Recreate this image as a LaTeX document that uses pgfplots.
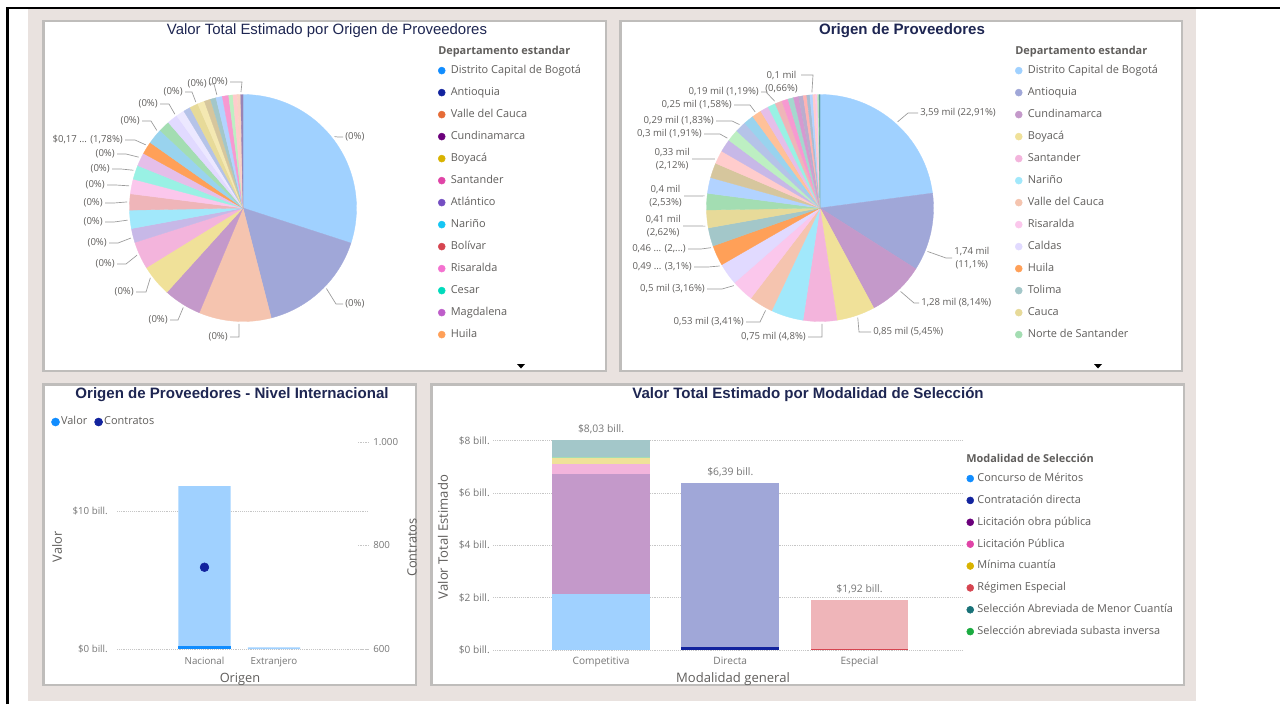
\documentclass[border=0pt]{standalone}
\usepackage{pgfplots}
\pgfplotsset{compat=1.18}
\usepackage{pgfplotstable}
\usetikzlibrary{calc}
\usepackage{fontspec}
\setmainfont{Open Sans}
\newfontfamily\arialf{Liberation Sans}

\definecolor{cBog}{HTML}{118DFF}
\definecolor{cAnt}{HTML}{12239E}
\definecolor{cVal}{HTML}{E66C37}
\definecolor{cCun}{HTML}{6B007B}
\definecolor{cBoy}{HTML}{D9B300}
\definecolor{cSan}{HTML}{E044A7}
\definecolor{cAtl}{HTML}{744EC2}
\definecolor{cNar}{HTML}{15C6F4}
\definecolor{cBol}{HTML}{D64550}
\definecolor{cRis}{HTML}{F472D0}
\definecolor{cCes}{HTML}{00DBBC}
\definecolor{cMag}{HTML}{BE5DC9}
\definecolor{cHui}{HTML}{FFA058}
\definecolor{cCal}{HTML}{B5A1FF}
\definecolor{cTol}{HTML}{197278}
\definecolor{cCau}{HTML}{C4A200}
\definecolor{cNor}{HTML}{1AAB40}
\definecolor{cMet}{HTML}{4092FF}
\definecolor{cCor}{HTML}{FF8080}
\definecolor{cQui}{HTML}{5BD667}
\definecolor{cSuc}{HTML}{0091D5}
\definecolor{cCaq}{HTML}{4668C5}
\definecolor{cCas}{HTML}{FF6300}
\definecolor{cPut}{HTML}{99008A}
\definecolor{cGua}{HTML}{EC008C}
\definecolor{cCho}{HTML}{533285}
\definecolor{cAra}{HTML}{99700A}
\definecolor{cGuv}{HTML}{FF4141}
\definecolor{cAma}{HTML}{1F9A85}
\definecolor{cSaI}{HTML}{255A8F}
\definecolor{bgbeige}{HTML}{E9E2DF}
\definecolor{pborder}{HTML}{BFBDBB}
\definecolor{tgray}{HTML}{605E5C}
\definecolor{tlight}{HTML}{767676}
\definecolor{tnavy}{HTML}{1E2652}
\definecolor{gridc}{HTML}{C6C6C6}
\definecolor{leadc}{HTML}{9A9A9A}

% Left pie: share of Valor Total Estimado by department (%)
\pgfplotstableread{
v c f
30.00 cBog 40
16.00 cAnt 40
10.30 cVal 40
5.40 cCun 40
4.50 cBoy 40
3.90 cSan 40
2.00 cAtl 40
2.60 cNar 40
2.30 cBol 40
2.10 cRis 40
2.00 cCes 40
1.90 cMag 40
1.78 cHui 100
2.20 cSuc 40
1.60 cNor 40
1.50 cCal 40
1.20 cCal 25
1.00 cCaq 40
1.20 cCau 40
1.00 cBoy 30
0.90 cAra 40
0.80 cTol 40
0.90 cMet 40
0.90 cGua 40
0.60 cQui 40
0.60 cCor 40
0.50 cVal 30
0.32 cCho 60
}\pieL

% Right pie: share of suppliers by department (%)
\pgfplotstableread{
v c f
22.91 cBog 40
11.10 cAnt 40
8.14 cCun 40
5.45 cBoy 40
4.80 cSan 40
4.60 cNar 40
3.41 cVal 40
3.16 cRis 40
3.10 cCal 40
2.90 cHui 100
2.62 cTol 40
2.53 cCau 40
2.35 cNor 40
2.25 cMet 40
2.12 cAra 40
1.91 cCor 40
1.83 cAtl 40
1.70 cQui 40
1.58 cCaq 40
1.45 cSuc 40
1.35 cCas 40
1.19 cMag 40
1.10 cCes 40
1.00 cBol 40
0.90 cGua 40
0.80 cAma 40
0.72 cPut 40
0.66 cCho 40
0.50 cGuv 40
0.45 cSaI 40
0.40 cMet 40
0.37 cCor 40
0.30 cRis 40
0.20 cQui 40
0.15 cTol 70
}\pieR

\newcommand\drawpie[2]{%
  \pgfplotstablegetrowsof{#1}%
  \pgfmathtruncatemacro\pielast{\pgfplotsretval-1}%
  \gdef\pietot{0}%
  \foreach \i in {0,...,\pielast}{%
    \pgfplotstablegetelem{\i}{v}\of#1%
    \pgfmathsetmacro\pietmpv{\pietot+\pgfplotsretval}%
    \xdef\pietot{\pietmpv}}%
  \gdef\piecum{0}%
  \foreach \i in {0,...,\pielast}{%
    \pgfplotstablegetelem{\i}{v}\of#1\let\pieV\pgfplotsretval
    \pgfplotstablegetelem{\i}{c}\of#1\let\pieC\pgfplotsretval
    \pgfplotstablegetelem{\i}{f}\of#1\let\pieF\pgfplotsretval
    \pgfmathsetmacro\pieA{90-(\piecum/\pietot)*360}%
    \pgfmathsetmacro\pietmpv{\piecum+\pieV}\xdef\piecum{\pietmpv}%
    \pgfmathsetmacro\pieB{90-(\piecum/\pietot)*360}%
    \colorlet{pietmp}{\pieC!\pieF!white}%
    \fill[pietmp, draw=pietmp, line width=0.25pt] (axis cs:0,0) -- (axis cs:{#2*cos(\pieA)},{#2*sin(\pieA)}) arc[start angle=\pieA, end angle=\pieB, radius=#2*0.75pt] -- cycle;
  }}

\newcommand\dotentry[3]{\addlegendimage{legend image code/.code={\fill[#1] (0pt,0pt) circle (#2);}}\addlegendentry{#3}}

\tikzset{plabel/.style={font=\fontsize{7.2}{9.8}\selectfont, text=tgray, inner sep=1.5pt, align=center}}
\newcommand\plab[8]{\draw[leadc, line width=0.5pt] ($(#1,#2)+(#3:116)$) -- (#4,#6) -- (#5,#6); \node[plabel, anchor=#7] at (#5,#6) {#8};}

\pgfplotsset{
  pieaxis/.style={hide axis, clip=false, x=0.75pt, y=0.75pt, xmin=-114, xmax=114, ymin=-114, ymax=114, anchor=center},
  dotlegend/.style={legend cell align=left, legend style={draw=none, fill=none, inner sep=0pt, outer sep=0pt,
      font=\fontsize{8.2}{10}\selectfont, text=tgray, row sep=#1,
      nodes={inner sep=0pt, text height=6.2pt, text depth=1.8pt},
      /tikz/every odd column/.append style={column sep=4pt}}},
}

\begin{document}
\begin{tikzpicture}[x=0.75pt,y=-0.75pt]
\fill[white] (0,0) rectangle (1280,704);
\fill[bgbeige] (28,9) rectangle (1196,701);
\draw[black,line width=2.25pt] (7.5,704) -- (7.5,8);
\draw[black,line width=1.5pt] (6.4,8) -- (1280,8);
\foreach \a/\b/\c/\d in {43.5/21/606/371, 620.5/21/1182/371, 43.5/384.5/416/685, 431.5/384.5/1184/685}{
  \fill[white] (\a,\b) rectangle (\c,\d);
  \draw[pborder, line width=2.2pt] (\a,\b) rectangle (\c,\d);}

% titles
\node[font=\arialf\fontsize{11.2}{13}\selectfont, text=tnavy] at (327,31) {Valor Total Estimado por Origen de Proveedores};
\node[font=\arialf\bfseries\fontsize{11.3}{13}\selectfont, text=tnavy] at (902,31) {Origen de Proveedores};
\node[font=\arialf\bfseries\fontsize{11.3}{13}\selectfont, text=tnavy] at (232,395) {Origen de Proveedores - Nivel Internacional};
\node[font=\arialf\bfseries\fontsize{11.3}{13}\selectfont, text=tnavy] at (808,395) {Valor Total Estimado por Modalidad de Selección};

% legend titles
\node[anchor=west, inner sep=0pt, font=\bfseries\fontsize{8.2}{10}\selectfont, text=tgray] at (438,52) {Departamento estandar};
\node[anchor=west, inner sep=0pt, font=\bfseries\fontsize{8.2}{10}\selectfont, text=tgray] at (1015,52) {Departamento estandar};
\node[anchor=west, inner sep=0pt, font=\bfseries\fontsize{8.2}{10}\selectfont, text=tgray] at (966,458) {Modalidad de Selección};

% ---------- left pie ----------
\begin{axis}[pieaxis, at={(182.25pt,-156pt)}, dotlegend=8.5pt,
  legend style={at={(axis description cs:1.3553,1.126)}, anchor=north west}]
\pgfplotsextra{\drawpie{\pieL}{113.5}}
\dotentry{cBog}{2.6pt}{Distrito Capital de Bogotá}
\dotentry{cAnt}{2.6pt}{Antioquia}
\dotentry{cVal}{2.6pt}{Valle del Cauca}
\dotentry{cCun}{2.6pt}{Cundinamarca}
\dotentry{cBoy}{2.6pt}{Boyacá}
\dotentry{cSan}{2.6pt}{Santander}
\dotentry{cAtl}{2.6pt}{Atlántico}
\dotentry{cNar}{2.6pt}{Nariño}
\dotentry{cBol}{2.6pt}{Bolívar}
\dotentry{cRis}{2.6pt}{Risaralda}
\dotentry{cCes}{2.6pt}{Cesar}
\dotentry{cMag}{2.6pt}{Magdalena}
\dotentry{cHui}{2.6pt}{Huila}
\end{axis}

% ---------- right pie ----------
\begin{axis}[pieaxis, at={(615pt,-156pt)}, dotlegend=8.5pt,
  legend style={at={(axis description cs:1.3553,1.126)}, anchor=north west}]
\pgfplotsextra{\drawpie{\pieR}{113.5}}
\dotentry{cBog!40!white}{2.6pt}{Distrito Capital de Bogotá}
\dotentry{cAnt!40!white}{2.6pt}{Antioquia}
\dotentry{cCun!40!white}{2.6pt}{Cundinamarca}
\dotentry{cBoy!40!white}{2.6pt}{Boyacá}
\dotentry{cSan!40!white}{2.6pt}{Santander}
\dotentry{cNar!40!white}{2.6pt}{Nariño}
\dotentry{cVal!40!white}{2.6pt}{Valle del Cauca}
\dotentry{cRis!40!white}{2.6pt}{Risaralda}
\dotentry{cCal!40!white}{2.6pt}{Caldas}
\dotentry{cHui}{2.6pt}{Huila}
\dotentry{cTol!40!white}{2.6pt}{Tolima}
\dotentry{cCau!40!white}{2.6pt}{Cauca}
\dotentry{cNor!40!white}{2.6pt}{Norte de Santander}
\end{axis}

% pie labels (left)
\plab{243}{208}{92}{239}{230}{337}{east}{(0\%)}
\plab{243}{208}{121}{178}{170}{320}{east}{(0\%)}
\plab{243}{208}{143}{146}{136}{292}{east}{(0\%)}
\plab{243}{208}{156}{126}{117}{264}{east}{(0\%)}
\plab{243}{208}{165}{118}{109}{243}{east}{(0\%)}
\plab{243}{208}{174}{114}{105}{222}{east}{(0\%)}
\plab{243}{208}{183}{114}{105}{203}{east}{(0\%)}
\plab{243}{208}{191}{116}{107}{185}{east}{(0\%)}
\plab{243}{208}{199}{121}{112}{169}{east}{(0\%)}
\plab{243}{208}{206}{126}{117}{154}{east}{(0\%)}
\plab{243}{208}{213}{135}{125}{140}{east}{\$0,17 ... (1,78\%)}
\plab{243}{208}{222}{151}{142}{121}{east}{(0\%)}
\plab{243}{208}{234}{169}{160}{104}{east}{(0\%)}
\plab{243}{208}{246}{192}{185}{92}{east}{(0\%)}
\plab{243}{208}{257}{214}{209}{84}{east}{(0\%)}
\plab{243}{208}{269}{242}{230}{82}{east}{(0\%)}
\plab{243}{208}{322}{338}{343}{137}{west}{(0\%)}
\plab{243}{208}{44}{336}{343}{304}{west}{(0\%)}

% pie labels (right)
\plab{820}{208}{312}{908}{918}{113}{west}{3,59 mil (22,91\%)}
\plab{820}{208}{22}{946}{952}{258}{west}{1,74 mil\\(11,1\%)}
\plab{820}{208}{46}{914}{919}{303}{west}{1,28 mil (8,14\%)}
\plab{820}{208}{71}{859}{871}{332}{west}{0,85 mil (5,45\%)}
\plab{820}{208}{89}{822}{808}{337}{east}{0,75 mil (4,8\%)}
\plab{820}{208}{118}{760}{746}{322}{east}{0,53 mil (3,41\%)}
\plab{820}{208}{138}{722}{707}{289}{east}{0,5 mil (3,16\%)}
\plab{820}{208}{150}{708}{694}{267}{east}{0,49 ... (3,1\%)}
\plab{820}{208}{160}{701}{688}{249}{east}{0,46 ... (2,...)}
\plab{820}{208}{171}{700}{683}{226}{east}{0,41 mil\\(2,62\%)}
\plab{820}{208}{186}{698}{684}{196}{east}{0,4 mil\\(2,53\%)}
\plab{820}{208}{205}{707}{692}{159}{east}{0,33 mil\\(2,12\%)}
\plab{820}{208}{217}{720}{704}{134}{east}{0,3 mil (1,91\%)}
\plab{820}{208}{226}{732}{716}{121}{east}{0,29 mil (1,83\%)}
\plab{820}{208}{236}{750}{734}{105}{east}{0,25 mil (1,58\%)}
\plab{820}{208}{247}{766}{761}{92}{east}{0,19 mil (1,19\%)}
\draw[leadc, line width=0.5pt] ($(820,208)+(266:116)$) -- (813,75) -- (801,75);
\node[plabel, anchor=east] at (800,82) {0,1 mil\\(0,66\%)};

% dropdown arrows
\fill[black] (517,364) -- (525,364) -- (521,368.5) -- cycle;
\fill[black] (1094,364) -- (1102,364) -- (1098,368.5) -- cycle;

% ---------- bottom-left: Valor (left axis) ----------
\begin{axis}[at={(87.75pt,-486.75pt)}, anchor=south west, scale only axis,
  width=188.25pt, height=155.25pt,
  xmin=-1.259, xmax=2.353, ymin=0, ymax=15,
  ybar stacked, bar width=0.75, clip=false,
  axis line style={draw=none}, major tick length=0pt,
  xtick={0,1}, xticklabels={Nacional,Extranjero},
  ytick={0,10}, yticklabels={\$0 bill.,\$10 bill.},
  ymajorgrids, grid style={gridc, densely dotted, line width=0.6pt},
  tick label style={font=\fontsize{7.3}{9}\selectfont, text=tlight},
  yticklabel style={inner sep=0pt, xshift=-6.75pt},
  xticklabel style={inner sep=0pt, yshift=-6pt},
  xlabel={Origen}, ylabel={Valor},
  label style={font=\fontsize{9.6}{11}\selectfont, text=tgray},
  xlabel style={at={(axis description cs:0.49,-0.148)}, anchor=center},
  ylabel style={at={(axis description cs:-0.239,0.493)}, anchor=center},
  legend columns=2, legend cell align=left,
  legend style={at={(axis description cs:-0.263,1.0966)}, anchor=west, draw=none, fill=none, inner sep=0pt,
    font=\fontsize{8.2}{10}\selectfont, text=tgray,
    nodes={inner sep=0pt, text height=6.2pt, text depth=1.8pt},
    /tikz/every odd column/.append style={column sep=1pt},
    /tikz/every even column/.append style={column sep=5.25pt}}]
\addplot[fill=cBog, draw=none, forget plot] coordinates {(0,0.20) (1,0)};
\addplot[fill=cBog!40!white, draw=none, forget plot] coordinates {(0,11.61) (1,0.12)};
\dotentry{cBog}{3pt}{Valor}
\dotentry{cAnt}{3pt}{Contratos}
\end{axis}

% ---------- bottom-left: Contratos (right axis) ----------
\begin{axis}[at={(87.75pt,-486.75pt)}, anchor=south west, scale only axis,
  width=188.25pt, height=155.25pt,
  xmin=-1.259, xmax=2.353, ymin=600, ymax=1000, clip=false,
  axis x line=none, axis y line*=right, axis line style={draw=none},
  ytick={600,800,1000}, yticklabels={600,800,1.000},
  tick align=inside, major tick length=7.5pt,
  ytick style={gridc, densely dotted, line width=0.6pt},
  yticklabel style={font=\fontsize{7.3}{9}\selectfont, text=tlight, inner sep=0pt, xshift=3.75pt},
  ylabel={Contratos},
  ylabel style={at={(axis description cs:1.175,0.49)}, anchor=center, font=\fontsize{9.6}{11}\selectfont, text=tgray}]
\addplot[only marks, mark=*, mark size=3.3pt, color=cAnt, mark options={draw=none, fill=cAnt}] coordinates {(0,758)};
\end{axis}

% ---------- bottom-right: stacked bars ----------
\begin{axis}[at={(369.75pt,-487.5pt)}, anchor=south west, scale only axis,
  width=351.75pt, height=157.05pt,
  xmin=-0.836, xmax=2.793, ymin=0, ymax=8,
  ybar stacked, bar width=0.757, clip=false,
  axis line style={draw=none}, major tick length=0pt,
  xtick={0,1,2}, xticklabels={Competitiva,Directa,Especial},
  ytick={0,2,4,6,8}, yticklabels={\$0 bill.,\$2 bill.,\$4 bill.,\$6 bill.,\$8 bill.},
  ymajorgrids, grid style={gridc, densely dotted, line width=0.6pt},
  tick label style={font=\fontsize{7.6}{9}\selectfont, text=tlight},
  yticklabel style={inner sep=0pt, xshift=-2.25pt},
  xticklabel style={inner sep=0pt, yshift=-4.8pt},
  xlabel={Modalidad general}, ylabel={Valor Total Estimado},
  label style={font=\fontsize{9.8}{11}\selectfont, text=tgray},
  xlabel style={at={(axis description cs:0.5117,-0.138)}, anchor=center},
  ylabel style={at={(axis description cs:-0.1066,0.54)}, anchor=center},
  dotlegend=8.4pt,
  legend style={at={(axis description cs:1.0096,0.8443)}, anchor=north west,
    /tikz/every odd column/.append style={column sep=2.6pt}}]
\addplot[fill=cAnt, draw=none, forget plot] coordinates {(0,0) (1,0.10) (2,0)};
\addplot[fill=cBol, draw=none, forget plot] coordinates {(0,0) (1,0) (2,0.03)};
\addplot[fill=cBog!40!white, draw=none, forget plot] coordinates {(0,2.13) (1,0) (2,0)};
\addplot[fill=cAnt!40!white, draw=none, forget plot] coordinates {(0,0) (1,6.29) (2,0)};
\addplot[fill=cBol!40!white, draw=none, forget plot] coordinates {(0,0) (1,0) (2,1.89)};
\addplot[fill=cCun!40!white, draw=none, forget plot] coordinates {(0,4.61) (1,0) (2,0)};
\addplot[fill=cSan!40!white, draw=none, forget plot] coordinates {(0,0.38) (1,0) (2,0)};
\addplot[fill=cBoy!40!white, draw=none, forget plot] coordinates {(0,0.23) (1,0) (2,0)};
\addplot[fill=cNor!40!white, draw=none, forget plot] coordinates {(0,0.03) (1,0) (2,0)};
\addplot[fill=cTol!40!white, draw=none, forget plot] coordinates {(0,0.65) (1,0) (2,0)};
\node[anchor=south, inner sep=0pt, yshift=4.5pt, font=\fontsize{7.8}{9}\selectfont, text=tlight] at (axis cs:0,8.03) {\$8,03 bill.};
\node[anchor=south, inner sep=0pt, yshift=4.5pt, font=\fontsize{7.8}{9}\selectfont, text=tlight] at (axis cs:1,6.39) {\$6,39 bill.};
\node[anchor=south, inner sep=0pt, yshift=4.5pt, font=\fontsize{7.8}{9}\selectfont, text=tlight] at (axis cs:2,1.92) {\$1,92 bill.};
\dotentry{cBog}{2.6pt}{Concurso de Méritos}
\dotentry{cAnt}{2.6pt}{Contratación directa}
\dotentry{cCun}{2.6pt}{Licitación obra pública}
\dotentry{cSan}{2.6pt}{Licitación Pública}
\dotentry{cBoy}{2.6pt}{Mínima cuantía}
\dotentry{cBol}{2.6pt}{Régimen Especial}
\dotentry{cTol}{2.6pt}{Selección Abreviada de Menor Cuantía}
\dotentry{cNor}{2.6pt}{Selección abreviada subasta inversa}
\end{axis}

\pgfresetboundingbox
\path[use as bounding box] (0,0) rectangle (1280,704);
\end{tikzpicture}
\end{document}
